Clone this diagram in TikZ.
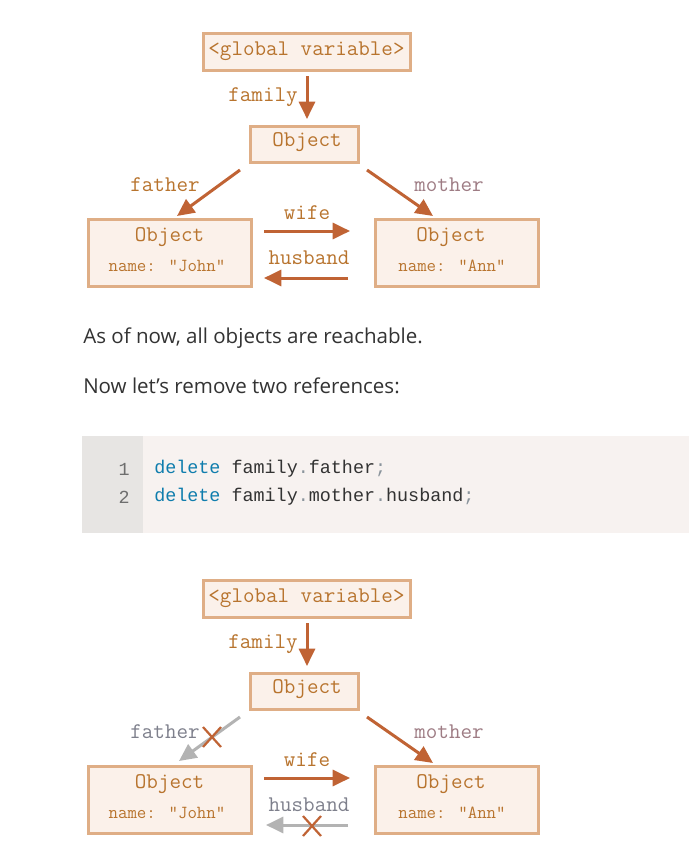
\documentclass[tikz,border=0pt]{standalone}
\usepackage{fontspec}
\setmainfont{Open Sans}
\newfontfamily\codefont{Liberation Mono}
\usetikzlibrary{arrows.meta,calc}
\definecolor{boxfill}{HTML}{FBF1EA}
\definecolor{boxline}{HTML}{DFAE86}
\definecolor{lbl}{HTML}{B8742E}
\definecolor{mlbl}{HTML}{9E7C84}
\definecolor{arr}{HTML}{C06334}
\definecolor{garr}{HTML}{B3B3B3}
\definecolor{glbl}{HTML}{7E808C}
\definecolor{txt}{HTML}{333333}
\definecolor{gutter}{HTML}{E7E5E3}
\definecolor{codebg}{HTML}{F7F2F0}
\definecolor{kw}{HTML}{0F7DAD}
\definecolor{punct}{HTML}{8A949C}
\definecolor{lnum}{HTML}{6E6E6E}
\tikzset{
  objbox/.style={draw=boxline, fill=boxfill, line width=3*0.75pt, inner sep=0pt, rectangle},
  boxtext/.style={text=lbl, font=\ttfamily\fontsize{16.8}{19}\selectfont, inner sep=0pt},
  smalltext/.style={text=lbl, font=\ttfamily\fontsize{13.8}{16}\selectfont, inner sep=0pt},
  lab/.style={text=lbl, font=\ttfamily\fontsize{16.8}{19}\selectfont, inner sep=0pt},
  ref/.style={draw=arr, line width=3*0.75pt, -{Triangle[length=13pt,width=12pt]}},
  gref/.style={draw=garr, line width=3*0.75pt, -{Triangle[length=13pt,width=12pt]}},
  cross/.style={draw=arr, line width=2.2*0.75pt},
  para/.style={text=txt, font=\fontsize{15.4}{18}\selectfont, inner sep=0pt, anchor=west},
  code/.style={font=\codefont\fontsize{13.8}{16}\selectfont, inner sep=0pt, anchor=west, text=txt},
}
\begin{document}
\begin{tikzpicture}[x=0.75pt,y=-0.75pt]
\useasboundingbox[fill=white] (0,0) rectangle (689,846);

% ===== top diagram =====
\node[objbox, minimum width=207*0.75pt, minimum height=37*0.75pt] (gv1) at (306.5,51.5) {};
\node[boxtext] (gv1t) at (gv1.center) {<global variable>};
\node[objbox, minimum width=108*0.75pt, minimum height=36*0.75pt] (ob1) at (304,144) {};
\node[boxtext] (ob1t) at (307,142) {Object};
\node[objbox, minimum width=163*0.75pt, minimum height=67*0.75pt] (jo1) at (169.5,252.5) {};
\node[boxtext] (jo1a) at (169.5,237) {Object};
\node[smalltext] (jo1b) at (167,266) {name: "John"};
\node[objbox, minimum width=163*0.75pt, minimum height=67*0.75pt] (an1) at (456.5,252.5) {};
\node[boxtext] (an1a) at (451,237) {Object};
\node[smalltext] (an1b) at (452,266) {name: "Ann"};

\coordinate (f1s) at (307,76);  \coordinate (f1e) at (307,119);
\coordinate (fa1s) at (240,170); \coordinate (fa1e) at (177,216);
\coordinate (mo1s) at (367,170); \coordinate (mo1e) at (433,216);
\coordinate (wi1s) at (264,231); \coordinate (wi1e) at (350,231);
\coordinate (hu1s) at (348,278); \coordinate (hu1e) at (264,278);
\draw[ref] (f1s) -- (f1e);
\draw[ref] (fa1s) -- (fa1e);
\draw[ref] (mo1s) -- (mo1e);
\draw[ref] (wi1s) -- (wi1e);
\draw[ref] (hu1s) -- (hu1e);
\node[lab] (lf1) at (263,97) {family};
\node[lab] (lfa1) at (165,185) {father};
\node[lab, text=mlbl] (lmo1) at (449,185) {mother};
\node[lab] (lwi1) at (307,213) {wife};
\node[lab] (lhu1) at (309,258) {husband};

% ===== text =====
\node[para] (p1) at (83,338) {As of now, all objects are reachable.};
\node[para] (p2) at (83,386) {Now let’s remove two references:};

% ===== code block =====
\fill[codebg] (82,436) rectangle (689,533);
\fill[gutter] (82,436) rectangle (143,533);
\node[code, text=lnum, anchor=east] (n1) at (130,469) {1};
\node[code, text=lnum, anchor=east] (n2) at (130,497) {2};
\node[code] (c1) at (154,469) {\textcolor{kw}{delete} family\textcolor{punct}{.}father\textcolor{punct}{;}};
\node[code] (c2) at (154,497) {\textcolor{kw}{delete} family\textcolor{punct}{.}mother\textcolor{punct}{.}husband\textcolor{punct}{;}};

% ===== bottom diagram =====
\begin{scope}[yshift=-547*0.75pt]
\node[objbox, minimum width=207*0.75pt, minimum height=37*0.75pt] (gv2) at (306.5,51.5) {};
\node[boxtext] (gv2t) at (gv2.center) {<global variable>};
\node[objbox, minimum width=108*0.75pt, minimum height=36*0.75pt] (ob2) at (304,144) {};
\node[boxtext] (ob2t) at (307,142) {Object};
\node[objbox, minimum width=163*0.75pt, minimum height=67*0.75pt] (jo2) at (169.5,252.5) {};
\node[boxtext] (jo2a) at (169.5,237) {Object};
\node[smalltext] (jo2b) at (167,266) {name: "John"};
\node[objbox, minimum width=163*0.75pt, minimum height=67*0.75pt] (an2) at (456.5,252.5) {};
\node[boxtext] (an2a) at (451,237) {Object};
\node[smalltext] (an2b) at (452,266) {name: "Ann"};

\coordinate (f2s) at (307,76);  \coordinate (f2e) at (307,119);
\coordinate (fa2s) at (240,170); \coordinate (fa2e) at (179,214);
\coordinate (mo2s) at (367,170); \coordinate (mo2e) at (433,216);
\coordinate (wi2s) at (264,231); \coordinate (wi2e) at (350,231);
\coordinate (hu2s) at (348,278); \coordinate (hu2e) at (266,278);
\draw[ref] (f2s) -- (f2e);
\draw[gref] (fa2s) -- (fa2e);
\draw[ref] (mo2s) -- (mo2e);
\draw[ref] (wi2s) -- (wi2e);
\draw[gref] (hu2s) -- (hu2e);
\coordinate (x1) at (212,190);
\coordinate (x2) at (312,279);
\draw[cross] ($(x1)+(-9,-10)$) -- ($(x1)+(9,10)$) ($(x1)+(9,-10)$) -- ($(x1)+(-9,10)$);
\draw[cross] ($(x2)+(-9,-10)$) -- ($(x2)+(9,10)$) ($(x2)+(9,-10)$) -- ($(x2)+(-9,10)$);
\node[lab] (lf2) at (263,97) {family};
\node[lab, text=glbl] (lfa2) at (165,185) {father};
\node[lab, text=mlbl] (lmo2) at (449,185) {mother};
\node[lab] (lwi2) at (307,213) {wife};
\node[lab, text=glbl] (lhu2) at (309,258) {husband};
\end{scope}
\end{tikzpicture}
\end{document}
